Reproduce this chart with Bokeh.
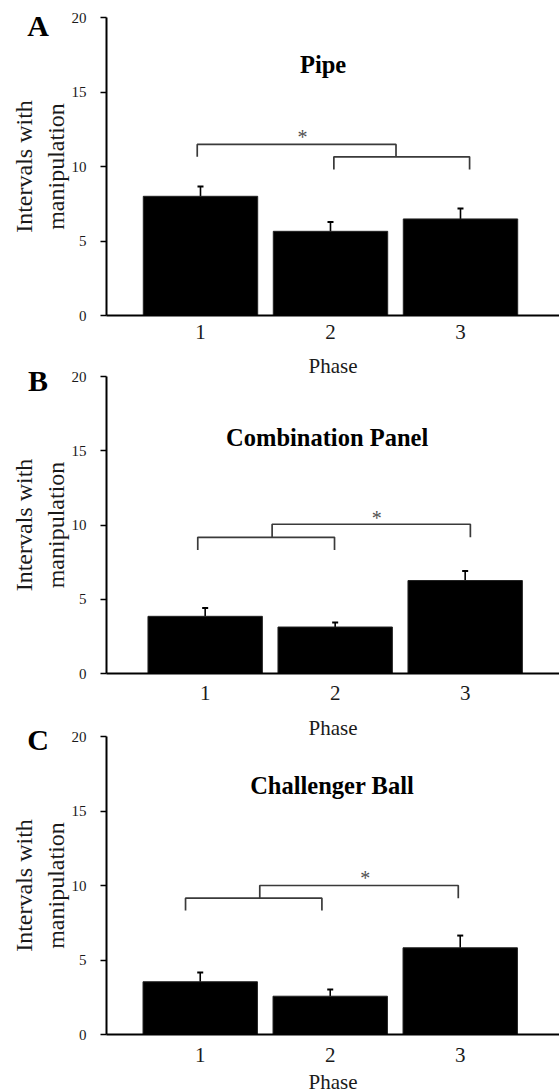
from bokeh.plotting import figure
from bokeh.layouts import column
from bokeh.models import Range1d, FixedTicker, Whisker, TeeHead, ColumnDataSource, Div
from bokeh.core.properties import value
from bokeh.embed import file_html
from bokeh.resources import INLINE

# ---------------- data ----------------
phases = [1, 2, 3]
phase_labels = {1: "1", 2: "2", 3: "3"}
y_ticks = [0, 5, 10, 15, 20]

panel_letters = ["A", "B", "C"]
panel_titles = ["Pipe", "Combination Panel", "Challenger Ball"]

pipe_mean = [8.0, 5.65, 6.48]
pipe_sem = [0.66, 0.63, 0.70]
combo_mean = [3.85, 3.13, 6.26]
combo_sem = [0.56, 0.31, 0.65]
ball_mean = [3.54, 2.57, 5.82]
ball_sem = [0.62, 0.45, 0.82]

# significance brackets: (x_left, x_right, y_top, y_left_end, y_right_end)
pipe_brackets = [(0.975, 2.504, 11.48, 10.65, 10.65), (2.026, 3.07, 10.65, 9.8, 9.8)]
combo_brackets = [(0.943, 1.995, 9.17, 8.32, 8.32), (1.515, 3.04, 10.05, 9.17, 9.17)]
ball_brackets = [(0.887, 1.936, 9.15, 8.32, 8.32), (1.458, 2.985, 10.0, 9.15, 9.15)]
# asterisk centres (x, y)
pipe_star = (1.785, 12.4)
combo_star = (2.32, 10.9)
ball_star = (2.27, 10.9)

# ---------------- layout constants ----------------
FONT = "Liberation Serif"
W = 559
FRAME_UNITS = 453 / 130.0
LETTER_H = 34

panels = [
    dict(letter=panel_letters[0], title=panel_titles[0], mean=pipe_mean, sem=pipe_sem,
         brackets=pipe_brackets, star=pipe_star, x0=0.277, bt=17, bb=66, overlap=13,
         tstand=3, lstand=12, title_xy=(1.943, 16.82), letter_top=9),
    dict(letter=panel_letters[1], title=panel_titles[1], mean=combo_mean, sem=combo_sem,
         brackets=combo_brackets, star=combo_star, x0=0.241, bt=8, bb=68, overlap=16,
         tstand=6, lstand=13, title_xy=(1.938, 15.91), letter_top=-4),
    dict(letter=panel_letters[2], title=panel_titles[2], mean=ball_mean, sem=ball_sem,
         brackets=ball_brackets, star=ball_star, x0=0.279, bt=10, bb=62, overlap=4,
         tstand=7, lstand=5, title_xy=(2.015, 16.74), letter_top=-3),
]
FRAME_H = 298


def make_letter(cfg):
    html = ('<div style="font-family:\'%s\';font-size:30px;font-weight:bold;'
            'line-height:%dpx;width:40px;text-align:center;color:#000;margin:0;padding:0;">%s</div>'
            % (FONT, LETTER_H, cfg["letter"]))
    top = cfg["letter_top"]
    return Div(text=html, width=40, height=LETTER_H,
               margin=(top, 0, -(top + LETTER_H), 18))


def make_panel(cfg):
    h = cfg["bt"] + FRAME_H + cfg["bb"]
    p = figure(width=W, height=h, output_backend="svg", toolbar_location=None,
               x_range=Range1d(cfg["x0"], cfg["x0"] + FRAME_UNITS), y_range=Range1d(0, 20),
               min_border_left=106, min_border_right=0, min_border_top=cfg["bt"],
               min_border_bottom=cfg["bb"], margin=(0, 0, -cfg["overlap"], 0))
    p.outline_line_color = None
    p.xgrid.visible = False
    p.ygrid.visible = False
    p.background_fill_color = "white"
    p.border_fill_color = None

    src = ColumnDataSource(dict(x=phases, top=cfg["mean"],
                                upper=[m + s for m, s in zip(cfg["mean"], cfg["sem"])]))
    p.vbar(x="x", top="top", bottom=0, width=0.88, source=src,
           fill_color="black", line_color="#222222", line_width=1)

    w = Whisker(source=src, base="x", upper="upper", lower="top",
                line_color="black", line_width=1.6,
                upper_head=TeeHead(size=6, line_color="black", line_width=2),
                lower_head=None)
    p.add_layout(w)

    xs, ys = [], []
    for (xl, xr, yt, yl, yr) in cfg["brackets"]:
        xs.append([xl, xl, xr, xr])
        ys.append([yl, yt, yt, yr])
    p.multi_line(xs, ys, line_color="#3a3a3a", line_width=1.7)

    p.text(x=[cfg["star"][0]], y=[cfg["star"][1]], text=["*"],
           text_font=value(FONT), text_font_size="20px", text_color="#505050",
           text_align="center", text_baseline="middle", y_offset=6)

    p.text(x=[cfg["title_xy"][0]], y=[cfg["title_xy"][1]], text=[cfg["title"]],
           text_font=value(FONT), text_font_size="24.5px", text_font_style="bold",
           text_color="black", text_align="center", text_baseline="alphabetic")

    # x axis
    xa = p.xaxis[0]
    xa.ticker = FixedTicker(ticks=phases)
    xa.major_label_overrides = phase_labels
    xa.major_tick_line_color = None
    xa.minor_tick_line_color = None
    xa.axis_line_color = "black"
    xa.axis_line_width = 2
    xa.major_label_text_font = FONT
    xa.major_label_text_font_size = "21px"
    xa.major_label_text_color = "#1a1a1a"
    xa.major_label_standoff = cfg["tstand"]
    xa.axis_label = "Phase"
    xa.axis_label_text_font = FONT
    xa.axis_label_text_font_size = "21px"
    xa.axis_label_text_font_style = "normal"
    xa.axis_label_text_color = "#1a1a1a"
    xa.axis_label_standoff = cfg["lstand"]

    # y axis
    ya = p.yaxis[0]
    ya.ticker = FixedTicker(ticks=y_ticks)
    ya.minor_tick_line_color = None
    ya.major_tick_out = 6
    ya.major_tick_in = 0
    ya.major_tick_line_width = 1.5
    ya.axis_line_color = "black"
    ya.axis_line_width = 2
    ya.major_label_text_font = FONT
    ya.major_label_text_font_size = "15px"
    ya.major_label_text_color = "#1a1a1a"
    ya.major_label_standoff = 14
    ya.axis_label = "Intervals with\nmanipulation"
    ya.axis_label_text_font = FONT
    ya.axis_label_text_font_size = "24px"
    ya.axis_label_text_font_style = "normal"
    ya.axis_label_text_color = "#1a1a1a"
    ya.axis_label_standoff = 0
    return p


children = []
for c in panels:
    children.append(make_letter(c))
    children.append(make_panel(c))
layout = column(*children, spacing=0)
open("out.html", "w").write(file_html(layout, INLINE))
